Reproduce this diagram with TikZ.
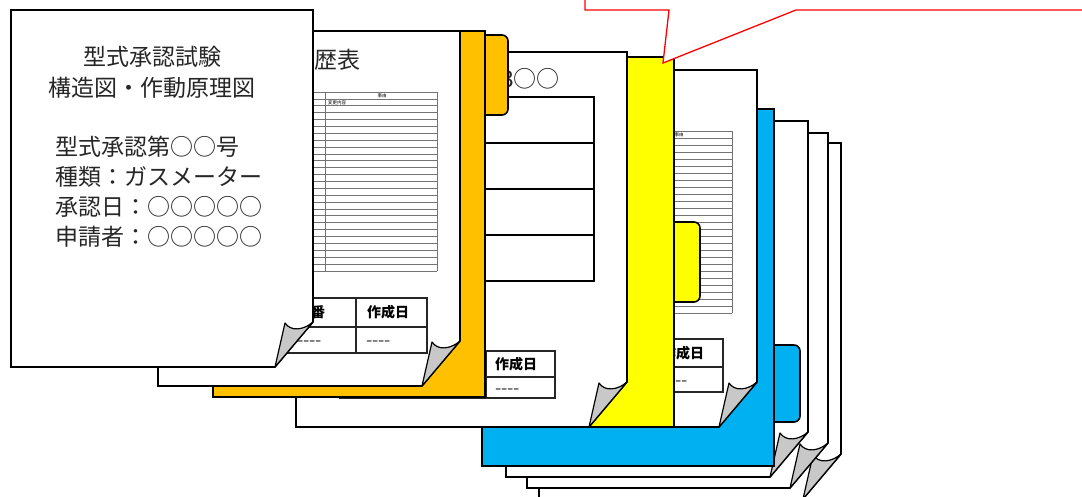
\documentclass[tikz,border=0pt]{standalone}
\usepackage{fontspec}
\setmainfont{Noto Sans CJK JP}
\usetikzlibrary{positioning}
\definecolor{fileOrange}{HTML}{FFC000}
\definecolor{fileYellow}{HTML}{FFFF00}
\definecolor{fileBlue}{HTML}{00B0F0}
\definecolor{curlGray}{HTML}{C8C8C8}
\tikzset{
  % --- sheets (page with a curled corner) and files ---
  sheet/.style={draw, fill=white, line width=1.6pt},
  curl/.style={draw, fill=curlGray, line width=1.2pt, line join=round},
  binder/.style={draw, line width=1.6pt},
  filetab/.style={draw, line width=1.6pt, rounded corners=6pt},
  pics/foldsheet/.style n args={2}{code={
    \draw[sheet] (-#1,-#2) -- (0,-#2) -- (0,-45) -- (-38,0) -- (-#1,0) -- cycle;
    \draw[curl] (-38,0) -- (-28,-44) .. controls (-22,-35) and (-9,-37) .. (0,-45) -- cycle;
  }},
  % --- printed tables ---
  rowbox/.style={draw, line width=1.6pt},
  ledger/.style={draw=black!55, line width=0.7pt},
  stampbox/.style={draw=black!85, line width=1.2pt},
  stamptext/.style={font=\fontsize{14}{14}\selectfont\bfseries, anchor=base west, inner sep=0pt},
  dashtext/.style={font=\fontsize{18}{18}\selectfont, anchor=base west, inner sep=0pt, text=black!75},
  headtext/.style={font=\fontsize{4.5}{4.5}\selectfont, inner sep=0pt},
  % --- large lettering ---
  covertext/.style={font=\fontsize{23}{23}\selectfont, inner sep=0pt, text=black!85},
  callout/.style={draw=red, fill=white, line width=1.3pt},
}
% four loose hyphens, kept apart so they do not join into dashes
\newcommand{\blankmark}{-{}-{}-{}-}

\begin{document}
\begin{tikzpicture}[x=1pt, y=-1pt]
  \useasboundingbox (0,0) rectangle (1082,497);
  \clip (0,0) rectangle (1082,497);

  % ---- loose sheets behind the blue file ----
  \pic at (841,499) {foldsheet={302}{356}};
  \pic at (828,488) {foldsheet={301}{355}};
  \pic at (808,477) {foldsheet={302}{356}};

  % ---- blue file ----
  \draw[filetab, fill=fileBlue] (760,345) rectangle (800,422);
  \draw[binder, fill=fileBlue] (482,109) rectangle (774,466);

  % ---- sheet in front of the blue file (ledger) ----
  \pic at (757,427) {foldsheet={302}{357}};
  \foreach \k in {0,...,26}
    \draw[ledger] (560,{131+7*\k}) -- (732,{131+7*\k});
  \draw[ledger] (620,131) -- (620,313);
  \draw[ledger] (732,131) -- (732,313);
  \node[headtext] (hdB) at (679,135) {事由};
  \draw[stampbox] (585,339) rectangle (723,392);
  \draw[stampbox] (585,367) -- (723,367);
  \draw[stampbox] (654,339) -- (654,392);
  \node[stamptext] (dateB) at (662,358.5) {作成日};
  \node[dashtext] (dashB) at (663,386) {\blankmark};

  % ---- yellow file ----
  \draw[filetab, fill=fileYellow] (660,222) rectangle (700,302);
  \draw[binder, fill=fileYellow] (402,57) rectangle (674,427);

  % ---- sheet in front of the yellow file (list of rows) ----
  \pic at (627,427) {foldsheet={331}{375}};
  \node[covertext, anchor=base east] (listtitle) at (560,88) {3○○};
  \foreach \r in {97,143,189,235}
    \draw[rowbox] (330,\r) rectangle (594,\r+46);
  \draw[stampbox] (340,351) rectangle (555,398);
  \draw[stampbox] (340,377) -- (555,377);
  \draw[stampbox] (486,351) -- (486,398);
  \node[stamptext] (dateL) at (495,369.5) {作成日};
  \node[dashtext] (dashL) at (495,394) {\blankmark};

  % ---- orange file ----
  \draw[filetab, fill=fileOrange] (470,35) rectangle (508,115);
  \draw[binder, fill=fileOrange] (213,31) rectangle (485,397);

  % ---- sheet in front of the orange file (revision history) ----
  \pic at (460,386) {foldsheet={302}{355}};
  \node[covertext, anchor=base east] (histtitle) at (361,68.5) {改訂履歴表};
  \foreach \k in {0,...,26}
    \draw[ledger] (200,{92+6.88*\k}) -- (437,{92+6.88*\k});
  \draw[ledger] (325,92) -- (325,271);
  \draw[ledger] (437,92) -- (437,271);
  \node[headtext] (hdA) at (382,96) {事由};
  \node[headtext] (hdA2) at (337,103) {変更内容};
  \draw[stampbox] (288,298) rectangle (427,353);
  \draw[stampbox] (288,327) -- (427,327);
  \draw[stampbox] (356,298) -- (356,353);
  \node[stamptext] (numA) at (297,317.5) {図番};
  \node[stamptext] (dateA) at (367,317.5) {作成日};
  \node[dashtext] (dashA1) at (297,346) {\blankmark};
  \node[dashtext] (dashA2) at (366,346) {\blankmark};

  % ---- cover sheet ----
  \pic at (313,367) {foldsheet={302}{357}};
  \node[covertext, anchor=base] (line1) at (152,65.5) {型式承認試験};
  \node[covertext, anchor=base] (line2) at (152,96.5) {構造図・作動原理図};
  \node[covertext, anchor=base west] (line3) at (55,155.5) {型式承認第○○号};
  \node[covertext, anchor=base west] (line4) at (55,185.5) {種類：ガスメーター};
  \node[covertext, anchor=base west] (line5) at (55,215.5) {承認日：○○○○○};
  \node[covertext, anchor=base west] (line6) at (55,245.5) {申請者：○○○○○};

  % ---- callout pointing at the yellow file ----
  \coordinate (tip) at (663,63);
  \draw[callout] (585,-5) -- (585,10) -- (669,10) -- (tip) -- (796,10)
    -- (1090,10) -- (1090,-5) -- cycle;
\end{tikzpicture}
\end{document}
